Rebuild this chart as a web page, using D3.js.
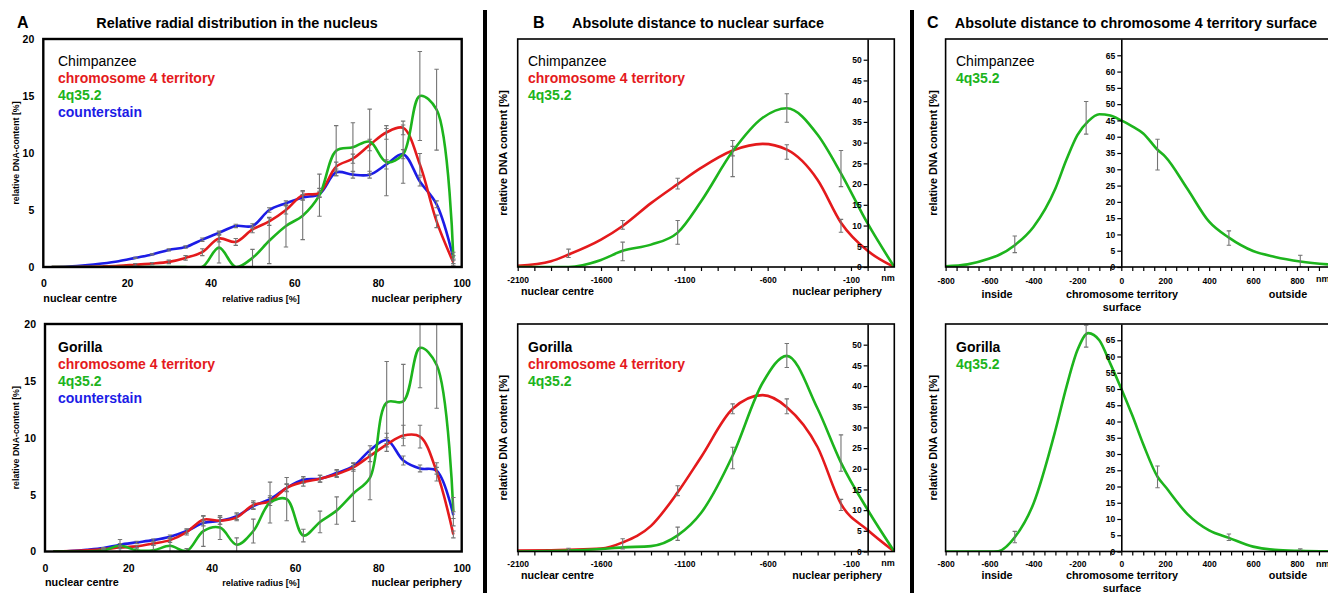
<!DOCTYPE html>
<html>
<head>
<meta charset="utf-8">
<script src="https://cdn.jsdelivr.net/npm/d3@7"></script>
<style>
  body { margin: 0; background: #fff; }
  svg { display: block; }
  text { font-family: "Liberation Sans", Arial, sans-serif; }
</style>
</head>
<body>
<svg id="chart" width="1328" height="593"></svg>
<script>
// ---- A: relative radial distribution (bins of 4 %) ----
const radialX = [2, 6, 10, 14, 18, 22, 26, 30, 34, 38, 42, 46, 50, 54, 58, 62, 66, 70, 74, 78, 82, 86, 90, 94, 98];
const radialTicks = [0, 20, 40, 60, 80, 100];
const radialYTicks = [0, 5, 10, 15, 20];

const chimpTerritory    = [0, 0, 0.02, 0.05, 0.1, 0.2, 0.3, 0.45, 0.8, 1.3, 2.5, 2.2, 3.3, 4.0, 5.0, 6.3, 6.5, 8.8, 9.5, 10.7, 11.8, 12.2, 9.0, 4.0, 0.4];
const chimpTerritoryErr = [0, 0, 0, 0, 0, 0.1, 0.1, 0.15, 0.2, 0.3, 0.3, 0.3, 0.3, 0.35, 0.35, 0.4, 0.4, 0.4, 0.4, 0.5, 0.6, 0.6, 0.95, 0.55, 0.3];
const chimpProbe        = [0, 0, 0, 0, 0, 0, 0, 0, 0, 0, 1.7, 0, 0.8, 2.3, 3.6, 4.5, 6.3, 10.2, 10.5, 11.0, 9.2, 9.9, 15.0, 13.8, 0.8];
const chimpProbeErr     = [0, 0, 0, 0, 0, 0, 0, 0, 0, 0, 1.35, 0, 0.75, 2.0, 1.85, 2.1, 1.85, 2.2, 2.15, 2.85, 2.95, 2.55, 3.9, 3.55, 0.5];
const chimpCounter      = [0, 0.05, 0.15, 0.3, 0.5, 0.8, 1.1, 1.5, 1.75, 2.4, 3.0, 3.6, 3.6, 5.0, 5.6, 6.1, 6.4, 8.3, 8.1, 8.1, 9.0, 9.9, 7.5, 5.5, 0.8];
const chimpCounterErr   = [0, 0, 0, 0, 0, 0.05, 0.05, 0.1, 0.1, 0.15, 0.15, 0.15, 0.2, 0.2, 0.2, 0.25, 0.25, 0.3, 0.3, 0.3, 0.4, 0.4, 0.4, 0.3, 0.2];

const gorTerritory    = [0, 0.03, 0.1, 0.2, 0.35, 0.45, 0.7, 1.0, 1.7, 2.8, 2.7, 3.0, 4.1, 4.4, 5.6, 6.1, 6.4, 6.8, 7.4, 8.4, 9.4, 10.2, 10.1, 7.0, 1.5];
const gorTerritoryErr = [0, 0, 0, 0.05, 0.1, 0.1, 0.15, 0.2, 0.25, 0.3, 0.3, 0.3, 0.35, 0.35, 0.35, 0.35, 0.3, 0.3, 0.35, 0.5, 0.6, 0.9, 1.0, 0.8, 0.3];
const gorProbe        = [0, 0, 0, 0.1, 0.5, 0.1, 0.1, 0.5, 0.05, 1.8, 2.1, 0.6, 1.8, 4.3, 4.6, 1.4, 2.6, 3.6, 5.1, 6.5, 13.1, 13.2, 17.9, 16.4, 3.5];
const gorProbeErr     = [0, 0, 0, 0, 0.55, 0.2, 0.45, 0.7, 0.2, 1.35, 1.05, 0.6, 1.05, 1.8, 1.9, 0.55, 0.95, 1.2, 2.45, 1.95, 3.6, 3.25, 3.5, 3.8, 1.25];
const gorCounter      = [0, 0.05, 0.15, 0.3, 0.6, 0.8, 1.0, 1.3, 1.8, 2.5, 2.7, 3.1, 4.0, 4.6, 5.6, 6.3, 6.4, 6.9, 7.5, 8.9, 9.8, 8.0, 7.3, 7.1, 3.2];
const gorCounterErr   = [0, 0, 0, 0.05, 0.1, 0.1, 0.1, 0.15, 0.2, 0.25, 0.3, 0.3, 0.3, 0.3, 0.3, 0.3, 0.3, 0.3, 0.3, 0.4, 0.6, 0.4, 0.3, 0.3, 0.3];

// ---- B: absolute distance to nuclear surface (nm) ----
const surfNm = [-2100, -1900, -1795, -1600, -1470, -1300, -1140, -1000, -810, -630, -485, -300, -160, 0, 160];
const surfTicks = [-2100, -1600, -1100, -600, -100];
const surfYTicks = [0, 5, 10, 15, 20, 25, 30, 35, 40, 45, 50];

const chimpSurfTerritory = [0.3, 1.4, 3.0, 6.6, 9.9, 15.4, 20.0, 23.9, 28.1, 29.7, 28.3, 21.0, 10.7, 3.9, 0];
const chimpSurfProbe     = [0, 0, 0, 1.7, 3.9, 5.4, 8.3, 15.8, 27.9, 36.0, 38.3, 31.9, 22.6, 10.5, 0];
const gorSurfTerritory   = [0.2, 0.3, 0.4, 0.7, 2.2, 6.2, 14.3, 22.8, 34.5, 37.8, 34.9, 25.2, 11.5, 5.2, 0];
const gorSurfProbe       = [0, 0.1, 0.2, 0.6, 1.0, 1.3, 3.9, 9.3, 23.2, 40.8, 47.3, 34.5, 21.5, 10.1, 0];

const surfErrNm = [-1795, -1470, -1140, -810, -485, -160];
const chimpSurfTerritoryLo = [2.3, 9.1, 18.8, 26.8, 26.0, 8.4];
const chimpSurfTerritoryHi = [4.3, 11.2, 21.4, 29.1, 29.5, 11.5];
const chimpSurfProbeLo     = [null, 1.5, 5.5, 21.8, 34.9, 19.4];
const chimpSurfProbeHi     = [null, 6.0, 11.2, 30.5, 41.8, 28.1];
const gorSurfTerritoryLo   = [0.1, 0.6, 13.5, 33.3, 33.3, 9.9];
const gorSurfTerritoryHi   = [0.8, 3.1, 15.9, 35.7, 36.9, 12.6];
const gorSurfProbeLo       = [null, null, 2.7, 20.0, 44.5, 19.4];
const gorSurfProbeHi       = [null, null, 5.9, 25.2, 50.3, 28.2];

// ---- C: absolute distance to chromosome 4 territory surface (nm) ----
const terrNm = [-800, -700, -600, -560, -485, -400, -300, -250, -200, -150, -100, -50, 0, 50, 100, 165, 200, 300, 400, 490, 600, 700, 815, 1000];
const terrTicks = [-800, -600, -400, -200, 0, 200, 400, 600, 800];
const terrYTicks = [0, 5, 10, 15, 20, 25, 30, 35, 40, 45, 50, 55, 60, 65];

const chimpTerrProbe = [0.2, 0.8, 2.6, 3.6, 6.7, 12.3, 24.1, 32.9, 40.5, 44.8, 46.9, 46.5, 45.0, 43.2, 41.0, 36.0, 33.9, 24.1, 13.9, 9.0, 4.9, 3.1, 1.7, 0.5];
const gorTerrProbe   = [0, 0, 0, 0.1, 4.4, 14.7, 37.3, 50.6, 61.9, 67.2, 65.0, 57.8, 50.1, 41.9, 33.0, 23.0, 20.0, 11.6, 6.5, 4.2, 1.5, 0.5, 0.2, 0];

const terrErrNm = [-485, -160, 165, 490, 815];
const chimpTerrLo = [4.4, 40.8, 29.8, 6.7, 0];
const chimpTerrHi = [9.5, 50.8, 39.2, 11.1, 3.6];
const gorTerrLo   = [2.7, 62.9, 19.6, 3.4, 0];
const gorTerrHi   = [6.2, 69.6, 26.3, 5.4, 0.8];

// ---- drawing ----
const RED = '#e41a1c', GREEN = '#1db41d', BLUE = '#1c1ce6', GREY = '#747474';
const svg = d3.select('#chart');
const rows = [{ top: 39, bottom: 267 }, { top: 324, bottom: 551.5 }];
let clipCount = 0;

function errorBars(g, x, y, xs, lo, hi) {
  xs.forEach((xv, i) => {
    if (lo[i] == null || hi[i] <= lo[i]) return;
    const px = x(xv);
    g.append('line').attr('x1', px).attr('x2', px).attr('y1', y(lo[i])).attr('y2', y(hi[i]));
    [lo[i], hi[i]].forEach(v => {
      g.append('line').attr('x1', px - 2.2).attr('x2', px + 2.2).attr('y1', y(v)).attr('y2', y(v));
    });
  });
  g.selectAll('line').attr('stroke', GREY).attr('stroke-width', 1.1);
}

function panel(cfg) {
  const g = svg.append('g');
  const x = d3.scaleLinear().domain(cfg.xDomain).range(cfg.xRange);
  const y = d3.scaleLinear().domain(cfg.yDomain).range([cfg.row.bottom, cfg.row.top]);

  const id = 'clip' + (clipCount++);
  svg.append('clipPath').attr('id', id).append('rect')
    .attr('x', cfg.xRange[0]).attr('y', cfg.row.top)
    .attr('width', cfg.xRange[1] - cfg.xRange[0])
    .attr('height', cfg.row.bottom - cfg.row.top);
  const plot = g.append('g').attr('clip-path', `url(#${id})`);

  const line = d3.line()
    .x(d => x(d[0])).y(d => y(d[1]))
    .curve(cfg.curve);

  cfg.series.forEach(s => {
    plot.append('path')
      .datum(d3.zip(s.x, s.y))
      .attr('d', line)
      .attr('fill', 'none')
      .attr('stroke', s.color)
      .attr('stroke-width', 2.6)
      .attr('stroke-linejoin', 'round');
  });
  const bars = plot.append('g');
  cfg.bars.forEach(b => errorBars(bars.append('g'), x, y, b.x, b.lo, b.hi));

  // frame
  g.append('rect')
    .attr('x', cfg.xRange[0]).attr('y', cfg.row.top)
    .attr('width', cfg.xRange[1] - cfg.xRange[0])
    .attr('height', cfg.row.bottom - cfg.row.top)
    .attr('fill', 'none').attr('stroke', '#000').attr('stroke-width', cfg.frame);

  // legend
  cfg.legend.forEach((l, i) => {
    g.append('text')
      .attr('x', cfg.legendX).attr('y', cfg.row.top + (cfg.row.top < 100 ? 26.5 : 28) + i * 17)
      .attr('fill', l.color || '#000')
      .attr('font-size', 14)
      .attr('font-weight', l.bold === false ? 'normal' : 'bold')
      .text(l.text);
  });
  return { g, x, y };
}

function styleAxis(sel, size) {
  sel.selectAll('text').attr('font-size', size).attr('font-weight', 'bold').attr('fill', '#000')
    .attr('font-family', '"Liberation Sans", Arial, sans-serif');
  sel.selectAll('line').attr('stroke', '#000').attr('stroke-width', 1.2);
}

function label(g, txt, x, y, size, anchor, rotate) {
  const t = g.append('text')
    .attr('font-size', size).attr('font-weight', 'bold')
    .attr('text-anchor', anchor || 'start')
    .text(txt);
  if (rotate) t.attr('transform', `translate(${x},${y}) rotate(-90)`);
  else t.attr('x', x).attr('y', y);
  return t;
}

// panel A
function radialPanel(row, x0, legendTitle, titleBold, territory, territoryErr, probe, probeErr, counter, counterErr, labelY) {
  const p = panel({
    row, xDomain: [0, 100], xRange: [x0, 461.7], yDomain: [0, 20], frame: 2.4,
    curve: d3.curveCatmullRom.alpha(0.5),
    series: [
      { x: radialX, y: counter, color: BLUE },
      { x: radialX, y: territory, color: RED },
      { x: radialX, y: probe, color: GREEN }
    ],
    bars: [
      { x: radialX, lo: counter.map((v, i) => v - counterErr[i]), hi: counter.map((v, i) => v + counterErr[i]) },
      { x: radialX, lo: territory.map((v, i) => v - territoryErr[i]), hi: territory.map((v, i) => v + territoryErr[i]) },
      { x: radialX, lo: probe.map((v, i) => v - probeErr[i]), hi: probe.map((v, i) => v + probeErr[i]) }
    ],
    legendX: 58,
    legend: [
      { text: legendTitle, bold: titleBold },
      { text: 'chromosome 4 territory', color: RED },
      { text: '4q35.2', color: GREEN },
      { text: 'counterstain', color: BLUE }
    ]
  });
  const ya = p.g.append('g').attr('transform', `translate(${x0},0)`)
    .call(d3.axisLeft(p.y).tickValues(radialYTicks).tickSize(0).tickPadding(9));
  ya.select('.domain').remove();
  styleAxis(ya, 10.5);
  const xa = p.g.append('g').attr('transform', `translate(0,${row.bottom})`)
    .call(d3.axisBottom(p.x).tickValues(radialTicks).tickSize(0).tickPadding(13));
  xa.select('.domain').remove();
  styleAxis(xa, 10.5);
  label(p.g, 'nuclear centre', x0, labelY, 10.8);
  label(p.g, 'relative radius [%]', 261, labelY, 9, 'middle');
  label(p.g, 'nuclear periphery', 462, labelY, 10.8, 'end');
  label(p.g, 'relative DNA-content [%]', 19, (row.top + row.bottom) / 2, 8.8, 'middle', true);
}

radialPanel(rows[0], 43.3, 'Chimpanzee', false, chimpTerritory, chimpTerritoryErr, chimpProbe, chimpProbeErr, chimpCounter, chimpCounterErr, 301.5);
radialPanel(rows[1], 45, 'Gorilla', true, gorTerritory, gorTerritoryErr, gorProbe, gorProbeErr, gorCounter, gorCounterErr, 586);

// panel B
function surfacePanel(row, legendTitle, titleBold, territory, probe, tLo, tHi, pLo, pHi, tickY, subY) {
  const p = panel({
    row, xDomain: [-2100, 160], xRange: [517.7, 894.3], yDomain: [0, 55], frame: 1.6,
    curve: d3.curveMonotoneX,
    series: [
      { x: surfNm, y: territory, color: RED },
      { x: surfNm, y: probe, color: GREEN }
    ],
    bars: [
      { x: surfErrNm, lo: tLo, hi: tHi },
      { x: surfErrNm, lo: pLo, hi: pHi }
    ],
    legendX: 528,
    legend: [
      { text: legendTitle, bold: titleBold },
      { text: 'chromosome 4 territory', color: RED },
      { text: '4q35.2', color: GREEN }
    ]
  });
  const xa = p.g.append('g').attr('transform', `translate(0,${row.bottom})`)
    .call(d3.axisBottom(p.x).tickValues(d3.range(-2100, 101, 100)).tickSize(4).tickPadding(tickY)
      .tickFormat(d => surfTicks.includes(d) ? String(d) : ''));
  xa.select('.domain').remove();
  styleAxis(xa, 8.5);
  const ya = p.g.append('g').attr('transform', `translate(${p.x(0)},0)`)
    .call(d3.axisLeft(p.y).tickValues(surfYTicks).tickSize(4).tickSizeOuter(0).tickPadding(2));
  ya.select('.domain').attr('stroke', '#000').attr('stroke-width', 1.6);
  styleAxis(ya, 8.5);
  label(p.g, 'nm', 888, row.bottom + 14, 9, 'middle');
  label(p.g, 'nuclear centre', 521, row.bottom + subY, 10.7);
  label(p.g, 'nuclear periphery', 882, row.bottom + subY, 10.7, 'end');
  label(p.g, 'relative DNA content [%]', 506.5, (row.top + row.bottom) / 2, 10.8, 'middle', true);
}

surfacePanel(rows[0], 'Chimpanzee', false, chimpSurfTerritory, chimpSurfProbe,
  chimpSurfTerritoryLo, chimpSurfTerritoryHi, chimpSurfProbeLo, chimpSurfProbeHi, 6.3, 28);
surfacePanel(rows[1], 'Gorilla', true, gorSurfTerritory, gorSurfProbe,
  gorSurfTerritoryLo, gorSurfTerritoryHi, gorSurfProbeLo, gorSurfProbeHi, 5.6, 27.8);

// panel C
function territoryPanel(row, legendTitle, titleBold, probe, lo, hi, tickPad, subY) {
  const p = panel({
    row, xDomain: [-800, 1000], xRange: [945.6, 1340.9], yDomain: [0, 70], frame: 1.6,
    curve: d3.curveMonotoneX,
    series: [{ x: terrNm, y: probe, color: GREEN }],
    bars: [{ x: terrErrNm, lo, hi }],
    legendX: 956,
    legend: [
      { text: legendTitle, bold: titleBold },
      { text: '4q35.2', color: GREEN }
    ]
  });
  const xa = p.g.append('g').attr('transform', `translate(0,${row.bottom})`)
    .call(d3.axisBottom(p.x).tickValues(d3.range(-800, 951, 50)).tickSize(4).tickPadding(tickPad)
      .tickFormat(d => terrTicks.includes(d) ? String(d) : ''));
  xa.select('.domain').remove();
  styleAxis(xa, 8.5);
  const ya = p.g.append('g').attr('transform', `translate(${p.x(0)},0)`)
    .call(d3.axisLeft(p.y).tickValues(terrYTicks).tickSize(4).tickSizeOuter(0).tickPadding(2));
  ya.select('.domain').attr('stroke', '#000').attr('stroke-width', 1.6);
  styleAxis(ya, 8.5);
  label(p.g, 'nm', 1316, row.bottom + 15, 9);
  label(p.g, 'inside', 997, row.bottom + subY, 10.8, 'middle');
  label(p.g, 'chromosome territory', 1122, row.bottom + subY, 10.8, 'middle');
  label(p.g, 'surface', 1122, row.bottom + subY + 12.5, 10.8, 'middle');
  label(p.g, 'outside', 1288, row.bottom + subY, 10.8, 'middle');
  label(p.g, 'relative DNA content [%]', 936.5, (row.top + row.bottom) / 2, 10.8, 'middle', true);
}

territoryPanel(rows[0], 'Chimpanzee', false, chimpTerrProbe, chimpTerrLo, chimpTerrHi, 6.5, 31);
territoryPanel(rows[1], 'Gorilla', true, gorTerrProbe, gorTerrLo, gorTerrHi, 5.6, 27.8);

// titles and separators
[
  { letter: 'A', lx: 17, title: 'Relative radial distribution in the nucleus', cx: 237 },
  { letter: 'B', lx: 533, title: 'Absolute distance to nuclear surface', cx: 698 },
  { letter: 'C', lx: 927, title: 'Absolute distance to chromosome 4 territory surface', cx: 1136 }
].forEach(t => {
  label(svg, t.letter, t.lx, 28, 16);
  label(svg, t.title, t.cx, 28, 14.4, 'middle');
});

[485, 912].forEach(xv => {
  svg.append('line').attr('x1', xv).attr('x2', xv).attr('y1', 10).attr('y2', 593)
    .attr('stroke', '#000').attr('stroke-width', 4);
});
</script>
</body>
</html>
